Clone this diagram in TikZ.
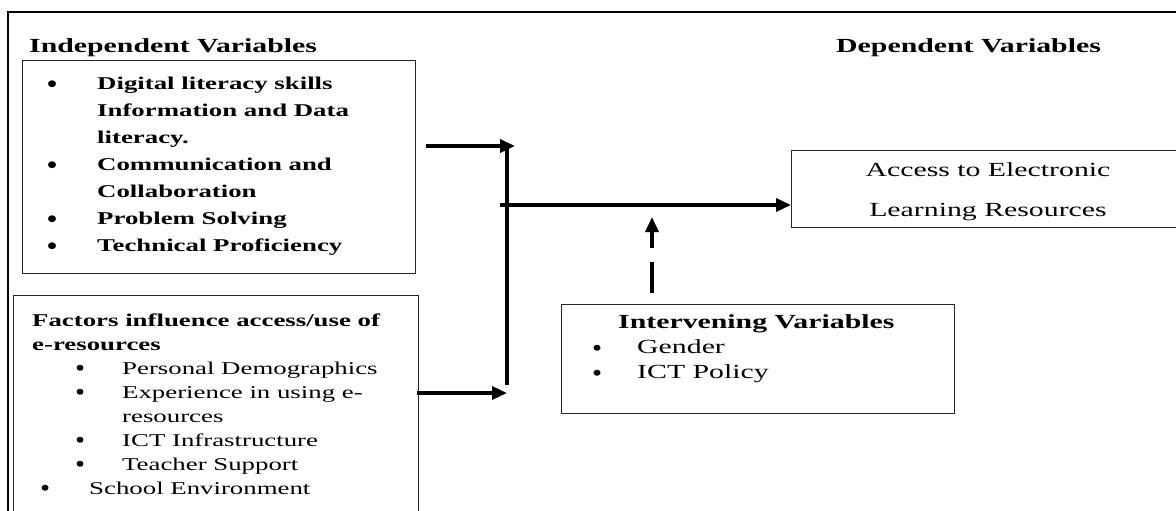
\documentclass[tikz,border=0pt]{standalone}
\usepackage{fontspec}
\setmainfont{Liberation Serif}[FakeStretch=1.49]
\newfontfamily\bulletfont{Liberation Serif}[FakeStretch=1.15]
\usetikzlibrary{arrows.meta}
\tikzset{
  box/.style={draw=black!85, line width=1.2pt, rectangle, anchor=north west, inner sep=0pt},
  txt/.style={anchor=base west, align=left, inner sep=0pt},
  flow/.style={line width=3.5pt, -{Triangle[length=15pt,width=13pt]}},
}
\newcommand{\bul}[1]{\makebox[#1][l]{\raisebox{-2.5pt}{\bulletfont\fontsize{25}{25}\selectfont\textbullet}}}

\begin{document}
\begin{tikzpicture}[x=1pt,y=-1pt]
\useasboundingbox (0,0) rectangle (1176,511);
\clip (0,0) rectangle (1176,511);
% outer frame
\draw[line width=2pt] (8,520) -- (8,12) -- (1180,12);

% headings
\node[txt, font=\fontsize{20}{24}\selectfont\bfseries] (indeplabel) at (29,53) {Independent Variables};
\node[txt, font=\fontsize{20}{24}\selectfont\bfseries] (deplabel) at (836,53) {Dependent Variables};

% boxes
\node[box, minimum width=393pt, minimum height=213pt] (indep) at (22,60) {};
\node[box, minimum width=405pt, minimum height=230pt] (factors) at (13,295) {};
\node[box, minimum width=393pt, minimum height=109pt] (interv) at (561,304) {};
\node[box, minimum width=400pt, minimum height=77pt] (depend) at (791,150) {};

% box texts (base = last line)
\node[txt, font=\fontsize{18}{27}\selectfont\bfseries] (indeplist) at (47,251.5)
  {\bul{50pt}Digital literacy skills\\ \hspace*{50pt}Information and Data\\ \hspace*{50pt}literacy.\\
   \bul{50pt}Communication and\\ \hspace*{50pt}Collaboration\\ \bul{50pt}Problem Solving\\
   \bul{50pt}Technical Proficiency};
\node[txt, font=\fontsize{18}{24}\selectfont] (factorlist) at (32,494)
  {{\bfseries Factors influence access/use of}\\ {\bfseries e-resources}\\
   \hspace*{43pt}\bul{47pt}Personal Demographics\\ \hspace*{43pt}\bul{47pt}Experience in using e-\\
   \hspace*{90pt}resources\\ \hspace*{43pt}\bul{47pt}ICT Infrastructure\\
   \hspace*{43pt}\bul{47pt}Teacher Support\\ \hspace*{8pt}\bul{49pt}School Environment};
\node[txt, font=\fontsize{20}{25}\selectfont] (intervlist) at (592,378.5)
  {\hspace*{26pt}\textbf{Intervening Variables}\\ \bul{45pt}Gender\\ \bul{45pt}ICT Policy};
\node[anchor=base, align=center, inner sep=0pt, font=\fontsize{20}{40}\selectfont] (deptext) at (988,216.5)
  {Access to Electronic\\ Learning Resources};

% connectors
\coordinate (in1) at (426,146);
\coordinate (bartop) at (507,146);
\coordinate (barbot) at (507,385);
\coordinate (in2) at (417,393);
\coordinate (hub) at (500,205);
\coordinate (dashfoot) at (652,293);
\draw[flow] (in1) -- ([xshift=8pt]bartop);
\draw[line width=3.5pt] (bartop) -- (barbot);
\draw[flow] (in2) -- (in2 -| bartop);
\draw[flow] (hub) -- (hub -| depend.west);
\draw[flow, dash pattern=on 31pt off 14pt on 200pt, shorten >=12pt] (dashfoot) -- (dashfoot |- hub);
\end{tikzpicture}
\end{document}
